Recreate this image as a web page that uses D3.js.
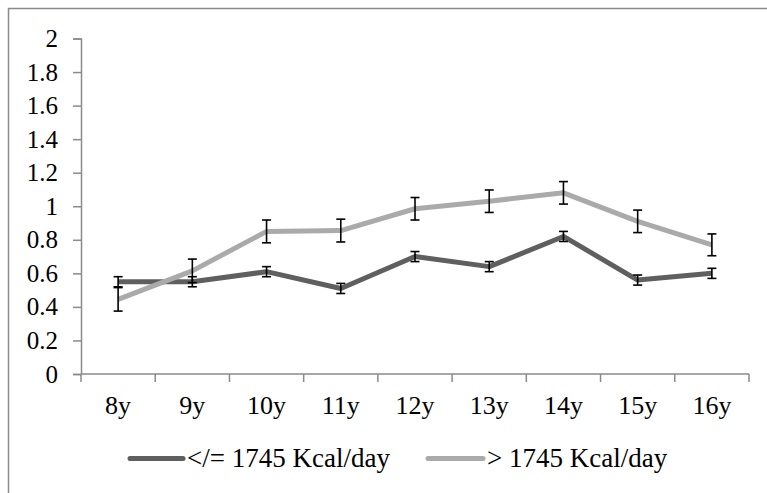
<!DOCTYPE html>
<html><head><meta charset="utf-8">
<script src="https://cdn.jsdelivr.net/npm/d3@7"></script>
<style>body{margin:0}</style>
</head><body><svg id="c" width="767" height="493"></svg>
<script>
const categories = ["8y","9y","10y","11y","12y","13y","14y","15y","16y"];
const lowValues  = [0.55,0.55,0.61,0.51,0.70,0.64,0.82,0.56,0.60];
const lowErrors  = [0.03,0.03,0.03,0.03,0.03,0.03,0.03,0.03,0.03];
const highValues = [0.445,0.615,0.85,0.855,0.985,1.03,1.08,0.91,0.77];
const highErrors = [0.07,0.07,0.068,0.068,0.067,0.067,0.067,0.067,0.065];
const yTicks = [0,0.2,0.4,0.6,0.8,1,1.2,1.4,1.6,1.8,2];
const seriesNames = ["</= 1745 Kcal/day","> 1745 Kcal/day"];
const seriesColors = ["#5f5f5f","#aaaaaa"];

(function(){
const svg = d3.select("#c");
const FONT = "Liberation Serif";
svg.append("rect").attr("x",8.5).attr("y",8.5).attr("width",800).attr("height",600)
  .attr("fill","none").attr("stroke","#8a8a8a").attr("stroke-width",1.5);

const pL=81, pR=749, pT=38.5, pB=374;
const x = d3.scaleBand().domain(categories).range([pL,pR]);
const y = d3.scaleLinear().domain([0,2]).range([pB,pT]);

const ya = svg.append("g").attr("transform",`translate(${pL},0)`)
  .call(d3.axisLeft(y).tickValues(yTicks).tickFormat(d=>String(d)).tickSize(8).tickPadding(15));
const xa = svg.append("g").attr("transform",`translate(0,${pB})`)
  .call(d3.axisBottom(x).tickSize(0).tickPadding(22));
xa.selectAll(".bt").data(categories.concat(["_end"])).enter().append("line")
  .attr("x1",(d,i)=>pL+i*x.step()).attr("x2",(d,i)=>pL+i*x.step())
  .attr("y1",0).attr("y2",8);
[ya,xa].forEach(a=>{
  a.attr("font-family",FONT).attr("font-size",null);
  a.selectAll("path.domain").attr("stroke","#8a8a8a").attr("stroke-width",1.5);
  a.selectAll("line").attr("stroke","#8a8a8a").attr("stroke-width",1.5);
  a.selectAll("text").style("font-family",FONT).attr("fill","#000");
});
ya.selectAll("text").style("font-size","25px");
xa.selectAll("text").style("font-size","26px");
xa.selectAll("path.domain").attr("d",`M${pL},0H${pR}`);

const cx = c => x(c)+x.bandwidth()/2;
const line = d3.line().x((d,i)=>cx(categories[i])).y(d=>y(d));
[lowValues,highValues].forEach((vals,k)=>{
  svg.append("path").datum(vals).attr("d",line).attr("fill","none")
    .attr("stroke",seriesColors[k]).attr("stroke-width",5).attr("stroke-linejoin","round");
});
[[lowValues,lowErrors],[highValues,highErrors]].forEach(([vals,errs])=>{
  const g = svg.append("g").attr("stroke","#000").attr("stroke-width",1.6);
  vals.forEach((v,i)=>{
    const xc = cx(categories[i]);
    g.append("line").attr("x1",xc).attr("x2",xc).attr("y1",y(v+errs[i])).attr("y2",y(v-errs[i]));
    g.append("line").attr("x1",xc-4.5).attr("x2",xc+4.5).attr("y1",y(v+errs[i])).attr("y2",y(v+errs[i]));
    g.append("line").attr("x1",xc-4.5).attr("x2",xc+4.5).attr("y1",y(v-errs[i])).attr("y2",y(v-errs[i]));
  });
});
const leg = [{x1:130,x2:183,tx:187},{x1:428,x2:483,tx:487}];
leg.forEach((L,k)=>{
  svg.append("line").attr("x1",L.x1).attr("x2",L.x2).attr("y1",458.5).attr("y2",458.5)
    .attr("stroke",seriesColors[k]).attr("stroke-width",5).attr("stroke-linecap","round");
  svg.append("text").attr("x",L.tx).attr("y",467).text(seriesNames[k])
    .style("font-family",FONT).style("font-size","27px").attr("fill","#000");
});
})();
</script></body></html>
